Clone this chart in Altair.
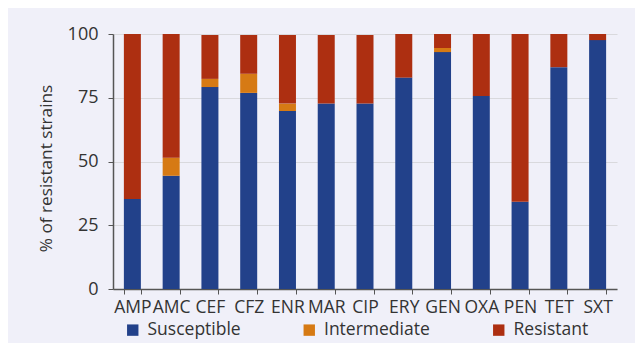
import altair as alt
import pandas as pd

drugs = ["AMP", "AMC", "CEF", "CFZ", "ENR", "MAR", "CIP", "ERY", "GEN", "OXA", "PEN", "TET", "SXT"]
susceptible = [35.3, 44.4, 79.2, 76.9, 69.8, 72.7, 72.7, 82.9, 92.9, 75.7, 34.2, 87.0, 97.6]
intermediate = [0, 7.1, 3.2, 7.5, 2.9, 0, 0, 0, 1.6, 0, 0, 0, 0]
resistant = [64.7, 48.5, 17.2, 15.2, 26.9, 26.9, 26.9, 17.1, 5.5, 24.3, 65.8, 13.0, 2.4]
categories = ["Susceptible", "Intermediate", "Resistant"]
colors = ["#22418a", "#d67a14", "#ad2f11"]

rows = []
for i, d in enumerate(drugs):
    for k, (cat, vals) in enumerate(zip(categories, [susceptible, intermediate, resistant])):
        rows.append({"drug": d, "category": cat, "value": vals[i], "order": k})
df = pd.DataFrame(rows)

FONT = "Open Sans"
TXT = "#333333"
FS = 17.5

chart = alt.Chart(df).mark_bar(size=17).encode(
    x=alt.X("drug:N", sort=drugs, title=None,
            scale=alt.Scale(paddingInner=0.56, paddingOuter=0.28),
            axis=alt.Axis(labelAngle=0, labelFontSize=FS, labelFont=FONT, labelColor=TXT,
                          domainColor="#555555", tickColor="#555555", tickSize=5,
                          tickBand="extent", labelPadding=4, domainWidth=1.5)),
    y=alt.Y("value:Q", stack="zero", title="% of resistant strains",
            scale=alt.Scale(domain=[0, 100], nice=False),
            axis=alt.Axis(values=[0, 25, 50, 75, 100], labelFontSize=18, labelFont=FONT,
                          labelColor=TXT, titleFont=FONT, titleFontSize=17.2, titleColor=TXT,
                          titleFontWeight="normal", domainColor="#555555", domainWidth=1.5,
                          tickColor="#555555", tickSize=5, gridColor="#d9d9dd",
                          labelPadding=10, titlePadding=12, titleY=134)),
    color=alt.Color("category:N", sort=categories,
                    scale=alt.Scale(domain=categories, range=colors),
                    legend=alt.Legend(title=None, orient="none", direction="horizontal",
                                      legendX=11, legendY=287, symbolType="square",
                                      symbolSize=130, symbolStrokeWidth=0, labelFont=FONT,
                                      labelFontSize=FS, labelColor=TXT, columnPadding=59.5,
                                      labelOffset=6)),
    order=alt.Order("order:Q"),
).properties(
    width=504, height=255,
    autosize=alt.AutoSizeParams(type="none"),
    padding={"left": 105, "top": 26, "right": 18, "bottom": 54},
    background="#f0f0f9",
).configure_view(stroke=None).configure_axisX(grid=False)

chart.save("out.html", embed_options={"renderer": "svg", "actions": False})
